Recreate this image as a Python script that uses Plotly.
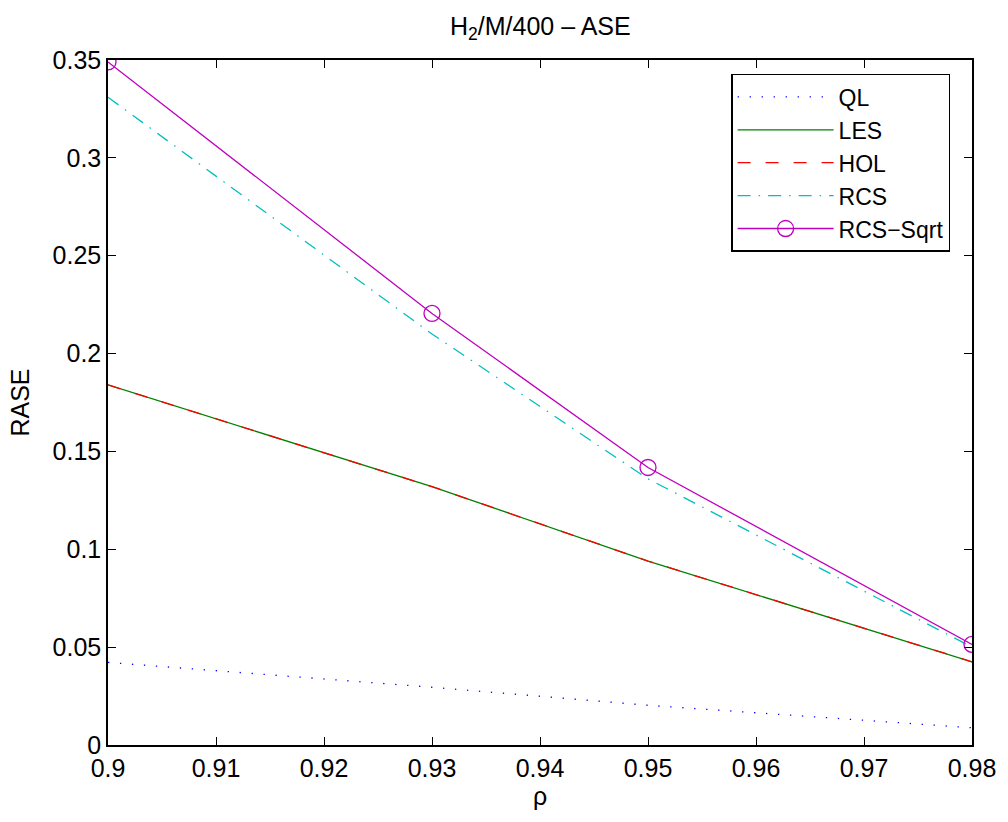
import plotly.graph_objects as go

rho = [0.90, 0.93, 0.95, 0.98]
ql = [0.0422, 0.0295, 0.0203, 0.0088]
les = [0.184, 0.132, 0.094, 0.0425]
hol = [0.184, 0.132, 0.094, 0.0425]
rcs = [0.331, 0.210, 0.136, 0.050]
rcs_sqrt = [0.349, 0.2205, 0.1418, 0.0514]

x_ticks = [0.90, 0.91, 0.92, 0.93, 0.94, 0.95, 0.96, 0.97, 0.98]
x_ticktext = ["0.9", "0.91", "0.92", "0.93", "0.94", "0.95", "0.96", "0.97", "0.98"]
y_ticks = [0, 0.05, 0.10, 0.15, 0.20, 0.25, 0.30, 0.35]
y_ticktext = ["0", "0.05", "0.1", "0.15", "0.2", "0.25", "0.3", "0.35"]

FONT = "Liberation Sans, Arial, sans-serif"
FS = 25

fig = go.Figure()
fig.add_trace(go.Scatter(x=rho, y=ql, name="QL", mode="lines",
                         line=dict(color="rgb(0,0,255)", width=1.3, dash="1.3px,10.7px")))
fig.add_trace(go.Scatter(x=rho, y=les, name="LES", mode="lines",
                         line=dict(color="rgb(0,128,0)", width=1.3)))
fig.add_trace(go.Scatter(x=rho, y=hol, name="HOL", mode="lines",
                         line=dict(color="rgb(255,0,0)", width=1.3, dash="13px,15px")))
fig.add_trace(go.Scatter(x=rho, y=rcs, name="RCS", mode="lines",
                         line=dict(color="rgb(0,191,191)", width=1.3, dash="13px,8px,1.5px,8px")))
fig.add_trace(go.Scatter(x=rho, y=rcs_sqrt, name="RCS\u2212Sqrt", mode="lines+markers",
                         line=dict(color="rgb(191,0,191)", width=1.3),
                         marker=dict(symbol="circle-open", size=16, color="rgb(191,0,191)",
                                     line=dict(width=1.3, color="rgb(191,0,191)"))))

axis_common = dict(showline=True, linecolor="black", linewidth=1.5, mirror="ticks",
                   ticks="inside", ticklen=8, tickcolor="black", tickwidth=1,
                   showgrid=False, zeroline=False,
                   tickfont=dict(family=FONT, size=FS, color="black"))

fig.update_layout(
    width=1008, height=822,
    margin=dict(l=108, r=32, t=60, b=77),
    paper_bgcolor="white", plot_bgcolor="white",
    font=dict(family=FONT, size=FS, color="black"),
    showlegend=True,
    legend=dict(x=0.7212, y=0.9796, xanchor="left", yanchor="top",
                bordercolor="black", borderwidth=1.5, bgcolor="white",
                font=dict(family=FONT, size=23, color="black"),
                itemwidth=96, tracegroupgap=0),
    xaxis=dict(range=[0.9, 0.98], tickvals=x_ticks, ticktext=x_ticktext,
               title=dict(text="\u03c1", font=dict(family=FONT, size=FS), standoff=6),
               **axis_common),
    yaxis=dict(range=[0, 0.35], tickvals=y_ticks, ticktext=y_ticktext,
               title=dict(text="RASE", font=dict(family=FONT, size=FS), standoff=16),
               **axis_common),
)
fig.add_annotation(text="H<sub>2</sub>/M/400 \u2013 ASE", xref="paper", yref="paper",
                   x=0.5, y=1, yshift=14, xanchor="center", yanchor="bottom",
                   showarrow=False, font=dict(family=FONT, size=FS, color="black"))

fig.write_html("out.html")
